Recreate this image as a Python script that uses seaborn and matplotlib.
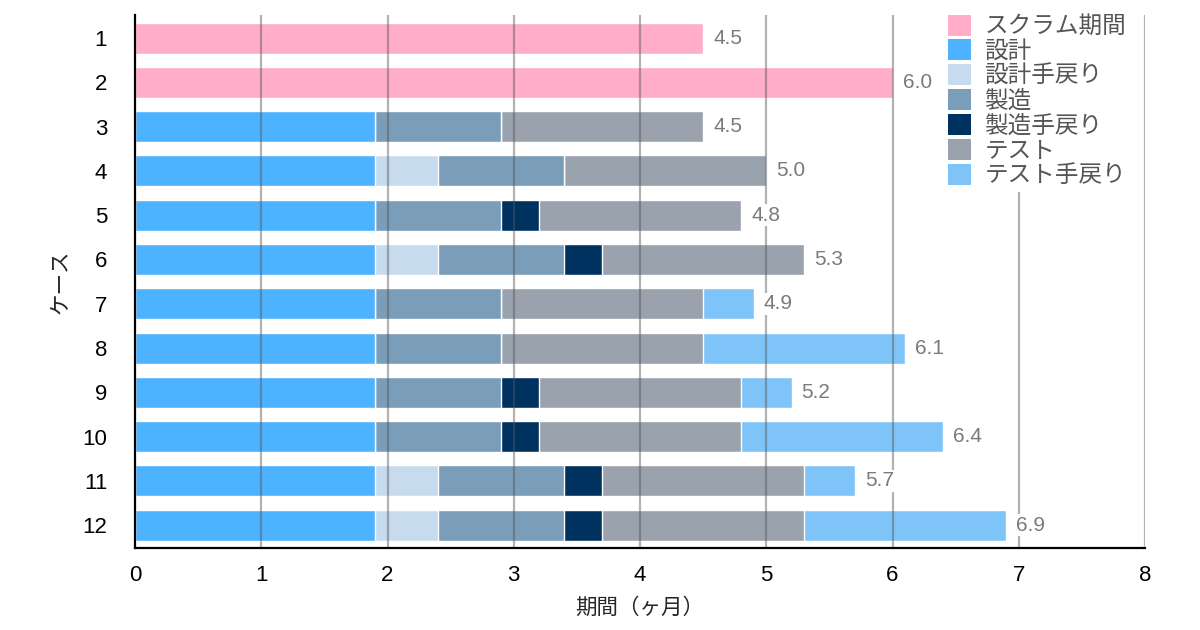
import numpy as np
import pandas as pd
import seaborn as sns
import matplotlib.pyplot as plt
from matplotlib.patches import Patch

# data (months per phase, per case)
cases = [str(i) for i in range(1, 13)]
scrum = [4.5, 6.0, 0, 0, 0, 0, 0, 0, 0, 0, 0, 0]
design = [0, 0, 1.9, 1.9, 1.9, 1.9, 1.9, 1.9, 1.9, 1.9, 1.9, 1.9]
design_rework = [0, 0, 0, 0.5, 0, 0.5, 0, 0, 0, 0, 0.5, 0.5]
manuf = [0, 0, 1.0, 1.0, 1.0, 1.0, 1.0, 1.0, 1.0, 1.0, 1.0, 1.0]
manuf_rework = [0, 0, 0, 0, 0.3, 0.3, 0, 0, 0.3, 0.3, 0.3, 0.3]
test = [0, 0, 1.6, 1.6, 1.6, 1.6, 1.6, 1.6, 1.6, 1.6, 1.6, 1.6]
test_rework = [0, 0, 0, 0, 0, 0, 0.4, 1.6, 0.4, 1.6, 0.4, 1.6]

phase_names = ['スクラム期間', '設計', '設計手戻り', '製造', '製造手戻り', 'テスト', 'テスト手戻り']
phase_values = [scrum, design, design_rework, manuf, manuf_rework, test, test_rework]
colors = ['#FFADC9', '#4DB2FF', '#C6DBEE', '#7A9DBA', '#003260', '#9AA2AE', '#7EC4F8']

sns.set_theme(style='white')
plt.rcParams['font.family'] = ['Noto Sans CJK JP', 'DejaVu Sans']
num_font = ['Liberation Sans', 'DejaVu Sans']

fig = plt.figure(figsize=(12, 6.3), dpi=100)
ax = fig.add_axes([0.1125, 0.130, 0.8417, 0.846])

df = pd.DataFrame(dict(zip(phase_names, phase_values)), index=cases)
cum = df.cumsum(axis=1)

# paint cumulative ends from last phase to first so earlier phases cover later ones
for name, col in reversed(list(zip(phase_names, colors))):
    sns.barplot(x=cum[name].values, y=cases, orient='h', color=col,
                width=0.7, saturation=1, ax=ax, zorder=2)

totals = df.sum(axis=1).values
for i, t in enumerate(totals):
    ax.text(t + 0.08, i, f'{t:.1f}', va='center', ha='left', fontsize=15,
            family=num_font, color='#7a7a7a', zorder=4,
            bbox=dict(facecolor='white', edgecolor='none', pad=1))

ax.set_xlim(0, 8)
ax.set_ylim(11.52, -0.52)
ax.set_xticks(range(0, 9))
for x in range(1, 9):
    ax.axvline(x, color='#555555', alpha=0.45, lw=1.6, zorder=3)

for s in ['top', 'right']:
    ax.spines[s].set_visible(False)
for s in ['left', 'bottom']:
    ax.spines[s].set_color('black')
    ax.spines[s].set_linewidth(1.6)
    ax.spines[s].set_zorder(5)

ax.tick_params(axis='both', labelsize=16, colors='black', length=0)
ax.tick_params(axis='y', pad=20)
ax.tick_params(axis='x', pad=12)
for lab in ax.get_xticklabels() + ax.get_yticklabels():
    lab.set_family(num_font)
ax.set_xlabel('期間（ヶ月）', fontsize=15.5, labelpad=8)
ax.set_ylabel('ケース', fontsize=15.5, labelpad=8)

handles = [Patch(facecolor=c, edgecolor='none') for c in colors]
leg = ax.legend(handles, phase_names, loc='upper left',
                bbox_to_anchor=(0.8, 1.01), frameon=True, fontsize=17,
                handlelength=1.0, handleheight=1.0, handletextpad=0.55,
                labelspacing=0.05, borderpad=0.2, borderaxespad=0)
leg.get_frame().set_facecolor('white')
leg.get_frame().set_edgecolor('none')
leg.get_frame().set_alpha(1)
leg.set_zorder(6)
for t in leg.get_texts():
    t.set_color('#555555')

fig.savefig('out.png', dpi=100)
